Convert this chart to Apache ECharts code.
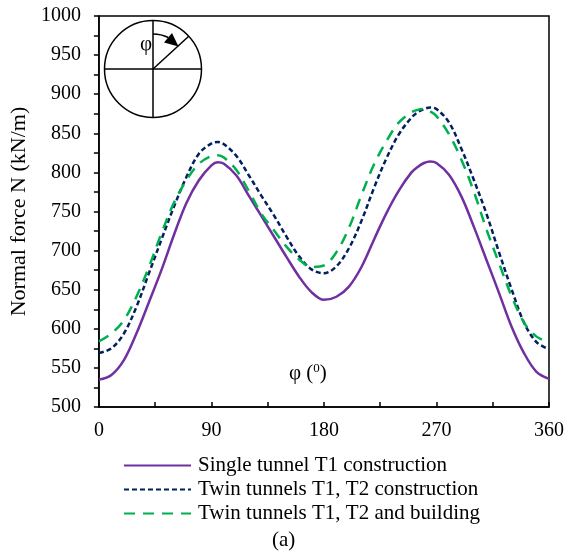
<!DOCTYPE html>
<html><head><meta charset="utf-8">
<script src="https://cdn.jsdelivr.net/npm/echarts@6/dist/echarts.min.js"></script>
<style>html,body{margin:0;padding:0;background:#fff}#c{width:567px;height:555px}</style>
</head><body><div id="c"></div>
<script>
const angles   = [0,10,20,30,40,50,60,70,80,90,95,100,110,120,130,140,150,160,170,180,190,200,210,220,230,240,250,255,260,265,270,280,290,300,310,320,330,340,350,360];
const single   = [535,541,560,594,634,675,720,761,790,809,813,811,796,770,744,718,692,667,647,637,641,654,679,714,748,777,800,807,812,814,812,797,769,730,688,646,603,569,545,536];
const twin     = [569,575,594,628,671,714,756,794,824,837,839,836,821,796,770,745,718,693,676,671,680,703,738,780,818,849,870,877,881,883,881,864,830,790,747,698,651,608,583,574];
const building = [584,594,611,641,679,722,761,790,811,821,822,819,803,776,747,726,705,689,679,681,698,729,771,810,840,864,877,880,881,878,872,849,816,775,727,684,642,608,590,583];
const seriesNames = ['Single tunnel T1 construction','Twin tunnels T1, T2 construction','Twin tunnels T1, T2 and building'];
const xTicks = [0,90,180,270,360];
const yTicks = [500,550,600,650,700,750,800,850,900,950,1000];

const font = 'Liberation Serif';
const chart = echarts.init(document.getElementById('c'));
function pairs(v){ return angles.map((a,i)=>[a,v[i]]); }
chart.setOption({
  animation:false,
  grid:{left:98,right:17,top:16,bottom:148,show:true,borderColor:'#000',borderWidth:1.5,backgroundColor:'transparent'},
  xAxis:{type:'value',min:xTicks[0],max:xTicks[xTicks.length-1],interval:90,
    axisLine:{lineStyle:{color:'#000',width:1.5}},
    axisTick:{inside:true,length:5,lineStyle:{color:'#000',width:1.5}},
    minorTick:{show:true,splitNumber:2,length:5,lineStyle:{color:'#000',width:1.5}},
    splitLine:{show:false},
    axisLabel:{color:'#000',fontFamily:font,fontSize:20,margin:14,formatter:v=>String(v)}},
  yAxis:{type:'value',min:yTicks[0],max:yTicks[yTicks.length-1],interval:50,
    name:'Normal force N (kN/m)',nameLocation:'middle',nameGap:67,
    nameTextStyle:{color:'#000',fontFamily:font,fontSize:22},
    axisLine:{lineStyle:{color:'#000',width:1.5}},
    axisTick:{inside:false,length:5,lineStyle:{color:'#000',width:1.5}},
    minorTick:{show:true,splitNumber:2,length:5,lineStyle:{color:'#000',width:1.5}},
    splitLine:{show:false},
    axisLabel:{color:'#000',fontFamily:font,fontSize:20,margin:18,formatter:v=>String(v)}},
  legend:{orient:'vertical',left:118,top:450,itemWidth:67,itemHeight:14,itemGap:3,
    itemStyle:{opacity:0},
    textStyle:{color:'#000',fontFamily:font,fontSize:21,lineHeight:21,padding:[0,0,0,2]},
    data:seriesNames},
  series:[
    {name:seriesNames[0],type:'line',data:pairs(single),smooth:0.35,symbol:'none',
     lineStyle:{color:'#7030A0',width:2.5},itemStyle:{color:'#7030A0'}},
    {name:seriesNames[1],type:'line',data:pairs(twin),smooth:0.35,symbol:'none',
     lineStyle:{color:'#002060',width:2.5,type:[5,3]},itemStyle:{color:'#002060'}},
    {name:seriesNames[2],type:'line',data:pairs(building),smooth:0.35,symbol:'none',
     lineStyle:{color:'#00B050',width:2.5,type:[11,8]},itemStyle:{color:'#00B050'}}
  ],
  graphic:[
    {type:'circle',shape:{cx:153,cy:69,r:48.5},style:{fill:'#fff',stroke:'#000',lineWidth:1.5}},
    {type:'line',shape:{x1:104.5,y1:69,x2:201.5,y2:69},style:{stroke:'#000',lineWidth:1.5}},
    {type:'line',shape:{x1:153,y1:20.5,x2:153,y2:117.5},style:{stroke:'#000',lineWidth:1.5}},
    {type:'line',shape:{x1:153,y1:69,x2:189,y2:36},style:{stroke:'#000',lineWidth:1.5}},
    {type:'arc',shape:{cx:153,cy:69,r:35,startAngle:-Math.PI/2,endAngle:-1.12},style:{stroke:'#000',lineWidth:1.5,fill:null}},
    {type:'polygon',shape:{points:[[164,42.5],[172,33],[178.5,46.5]]},style:{fill:'#000'}},
    {type:'text',x:140,y:34,style:{text:'φ',font:'21px "Liberation Serif"',fill:'#000'}},
    {type:'text',x:289,y:362,style:{text:'φ ({s|0})',rich:{s:{fontSize:13,fontFamily:font,verticalAlign:'top',padding:[0,0,9,0]}},font:'21px "Liberation Serif"',fill:'#000'}},
    {type:'text',x:272,y:530,style:{text:'(a)',font:'21px "Liberation Serif"',fill:'#000'}}
  ]
});
</script></body></html>
